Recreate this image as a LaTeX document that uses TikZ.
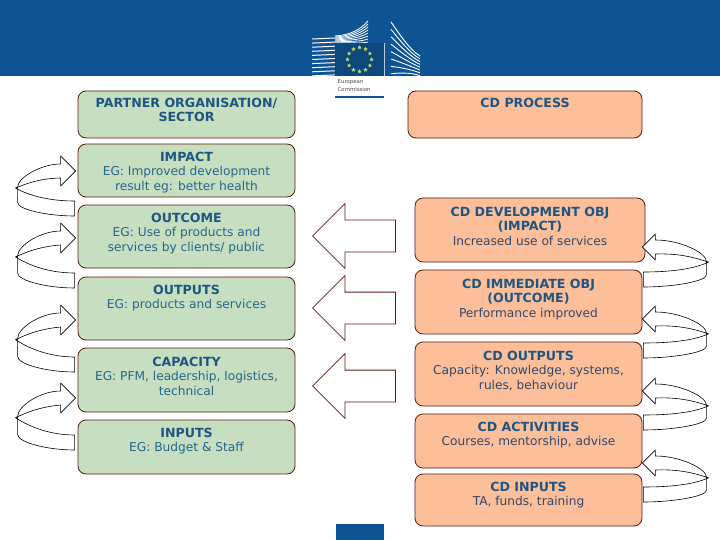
\documentclass[tikz,border=0pt]{standalone}
\usepackage{fontspec}
\setmainfont{DejaVu Sans}
\usetikzlibrary{calc}
\usetikzlibrary{positioning}
\usetikzlibrary{shapes.arrows, shapes.geometric}

\definecolor{headerblue}{HTML}{0E5394}
\definecolor{greenfill}{HTML}{C5DFC0}
\definecolor{orangefill}{HTML}{FDBF9A}
\definecolor{boxedge}{HTML}{5A1A10}
\definecolor{titleblue}{HTML}{1F5580}
\definecolor{greentext}{HTML}{27658A}
\definecolor{orangetext}{HTML}{33476A}
\definecolor{starcolor}{HTML}{C4DC5A}

\newcommand{\boxtitle}[1]{{\fontsize{12.6}{14.3}\selectfont\textbf{\textcolor{titleblue}{#1}}}}

\tikzset{
  greenbox/.style={rectangle, draw=boxedge, line width=0.8pt, rounded corners=8pt, fill=greenfill, inner sep=0pt},
  orangebox/.style={rectangle, draw=boxedge, line width=0.8pt, rounded corners=8pt, fill=orangefill, inner sep=0pt},
  greentxt/.style={align=center, inner sep=0pt, text=greentext, font=\fontsize{12.2}{14.3}\selectfont},
  orangetxt/.style={align=center, inner sep=0pt, text=orangetext, font=\fontsize{12.2}{14.3}\selectfont},
  blockarrow/.style={single arrow, shape border rotate=180, anchor=tip, draw=boxedge, line width=0.8pt, fill=white, minimum width=64pt, minimum height=83pt, single arrow head extend=16.5pt, inner xsep=0pt, inner ysep=15.5pt, single arrow tip angle=90},
  pics/looparrow/.style n args={3}{code={
    \draw[black, line width=0.6pt, fill=white, line join=round] (-1,{#2-15}) .. controls (-{#1*0.45},{#2-15}) and (-{#1*0.8},{#2*0.55}) .. (-{#1-2},{#2*0.38})
      .. controls (-{#1*0.75},{#2*0.22}) and (-{#1*0.5},{#2*0.16}) .. (-#3,7) -- (-#3,#3) -- (0,0) -- (-#3,-#3) -- (-#3,-7)
      .. controls (-{#1*0.6},-7) and (-#1,{#2*0.15}) .. (-#1,{#2*0.36}) -- (-#1,{#2*0.7})
      .. controls (-#1,{#2*0.85}) and (-{#1*0.5},#2) .. (-1,#2) -- cycle;
    \draw[black, line width=0.6pt] (-#1,{#2*0.36}) -- (-{#1-2},{#2*0.38});
  }},
}

\begin{document}
\begin{tikzpicture}[x=1pt, y=-1pt]
    \useasboundingbox (0,0) rectangle (720,540);

    % header and logo
    \fill[headerblue] (0,0) rectangle (720,76);
    \foreach \i in {0,...,9} {
      \draw[white, line width=1pt] (312,{39+\i*4.1}) -- (335,{38+\i*4.1});
    }
    \foreach \i in {0,...,7} {
      \draw[white, line width=0.8pt] (335,{36+\i}) .. controls (350,{35+\i}) and (360,{30+\i*2}) .. (368,{21+\i*3});
      \draw[white, line width=0.9pt] (391,{22+\i*7.4}) .. controls (400,{35+\i*5.4}) and (410,{50+\i*3.2}) .. (420,{56+\i*2.8});
    }
    \node[rectangle, fill=headerblue!85!black, minimum width=49pt, minimum height=33pt, inner sep=0pt] (flag) at (359.5,59.5) {};
    \draw[white!70!headerblue, line width=0.6pt] (flag.north east) -- (flag.south east);
    \foreach \i in {0,...,11} {
      \node[star, star points=5, star point ratio=2.2, fill=starcolor, minimum size=4.5pt, inner sep=0pt] (star\i) at ($(359.5,59.5)+({\i*30}:12)$) {};
    }
    \node[anchor=west, inner sep=0pt, align=left, text=black!70, font=\fontsize{5.4}{8}\selectfont] (eclabel) at (337.5,86) {European\\Commission};
    \fill[headerblue] (335,96) rectangle (384,98.5);
    \fill[headerblue] (336,524) rectangle (384,540);

    % left column
    \node[greenbox, minimum width=217pt, minimum height=47pt] (partner) at (186.5,114.5) {};
    \node[greenbox, minimum width=217pt, minimum height=53pt] (impact) at (186.5,170.5) {};
    \node[greenbox, minimum width=217pt, minimum height=63pt] (outcome) at (186.5,236.5) {};
    \node[greenbox, minimum width=217pt, minimum height=63pt] (outputs) at (186.5,308.5) {};
    \node[greenbox, minimum width=217pt, minimum height=64pt] (capacity) at (186.5,380) {};
    \node[greenbox, minimum width=217pt, minimum height=54pt] (inputs) at (186.5,447) {};

    \node[greentxt, below=7.5pt of partner.north] (partnertxt) {\boxtitle{PARTNER ORGANISATION/}\\\boxtitle{SECTOR}};
    \node[greentxt, below=8.5pt of impact.north] (impacttxt) {\boxtitle{IMPACT}\\EG: Improved development\\result eg: better health};
    \node[greentxt, below=8.5pt of outcome.north] (outcometxt) {\boxtitle{OUTCOME}\\EG: Use of products and\\services by clients/ public};
    \node[greentxt, below=8.5pt of outputs.north] (outputstxt) {\boxtitle{OUTPUTS}\\EG: products and services};
    \node[greentxt, below=9.5pt of capacity.north] (capacitytxt) {\boxtitle{CAPACITY}\\EG: PFM, leadership, logistics,\\technical};
    \node[greentxt, below=8.5pt of inputs.north] (inputstxt) {\boxtitle{INPUTS}\\EG: Budget \& Staff};

    % right column
    \node[orangebox, minimum width=234pt, minimum height=47pt] (process) at (525,114.5) {};
    \node[orangebox, minimum width=230pt, minimum height=64pt] (cddev) at (530,230) {};
    \node[orangebox, minimum width=227pt, minimum height=64pt] (cdimm) at (528.5,302) {};
    \node[orangebox, minimum width=227pt, minimum height=64pt] (cdout) at (528.5,374) {};
    \node[orangebox, minimum width=227pt, minimum height=54pt] (cdact) at (528.5,441) {};
    \node[orangebox, minimum width=227pt, minimum height=52pt] (cdin) at (528.5,500) {};

    \node[orangetxt, below=7.5pt of process.north] (processtxt) {\boxtitle{CD PROCESS}};
    \node[orangetxt, below=9.5pt of cddev.north] (cddevtxt) {\boxtitle{CD DEVELOPMENT OBJ}\\\boxtitle{(IMPACT)}\\Increased use of services};
    \node[orangetxt, below=9.5pt of cdimm.north] (cdimmtxt) {\boxtitle{CD IMMEDIATE OBJ}\\\boxtitle{(OUTCOME)}\\Performance improved};
    \node[orangetxt, below=9.5pt of cdout.north] (cdouttxt) {\boxtitle{CD OUTPUTS}\\Capacity: Knowledge, systems,\\rules, behaviour};
    \node[orangetxt, below=8.5pt of cdact.north] (cdacttxt) {\boxtitle{CD ACTIVITIES}\\Courses, mentorship, advise};
    \node[orangetxt, below=8.5pt of cdin.north] (cdintxt) {\boxtitle{CD INPUTS}\\TA, funds, training};

    % block arrows
    \node[blockarrow] (arrowa) at (312,236) {};
    \node[blockarrow] (arrowb) at (312,308) {};
    \node[blockarrow] (arrowc) at (312,386) {};

    % curved arrows
    \pic at ($(impact.west)+(-2,0.5)$) {looparrow={58}{45}{15}};
    \pic at ($(outcome.west)+(-2,1.5)$) {looparrow={58}{50}{15}};
    \pic at ($(outputs.west)+(-2,11.5)$) {looparrow={58}{52}{15}};
    \pic at ($(capacity.west)+(-2,18)$) {looparrow={58}{52}{15}};

    \pic[xscale=-1] at ($(cddev.east)+(-3,17)$) {looparrow={64}{40}{13}};
    \pic[xscale=-1] at ($(cdimm.east)+(0,17)$) {looparrow={64}{39}{13}};
    \pic[xscale=-1] at ($(cdout.east)+(0,17)$) {looparrow={64}{39}{13}};
    \pic[xscale=-1] at ($(cdact.east)+(0,22)$) {looparrow={64}{39}{13}};
\end{tikzpicture}
\end{document}
